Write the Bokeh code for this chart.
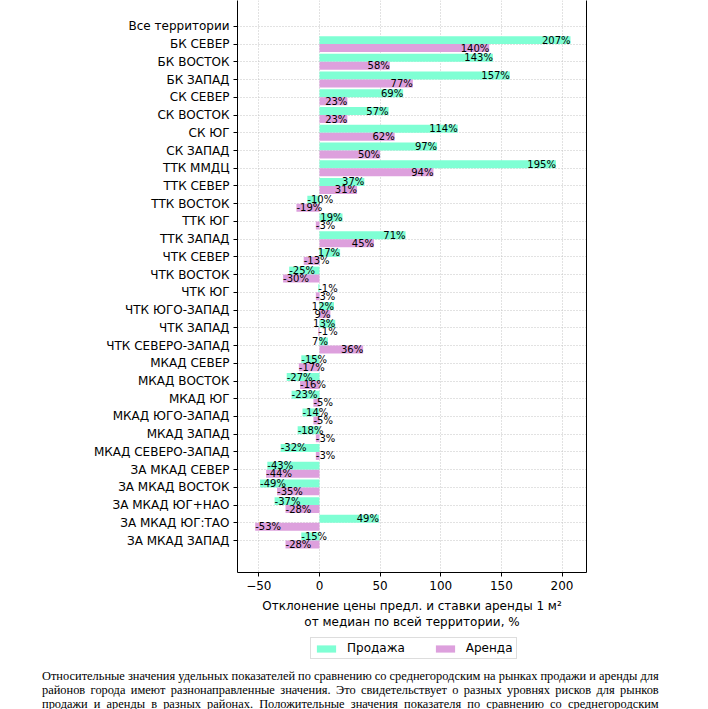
from bokeh.plotting import figure
from bokeh.models import ColumnDataSource, Range1d, FixedTicker, LinearAxis, Legend, LegendItem, Div
from bokeh.layouts import column
from bokeh.embed import file_html
from bokeh.resources import INLINE
from bokeh.core.properties import value

categories = [
    "Все территории", "БК СЕВЕР", "БК ВОСТОК", "БК ЗАПАД", "СК СЕВЕР", "СК ВОСТОК",
    "СК ЮГ", "СК ЗАПАД", "ТТК ММДЦ", "ТТК СЕВЕР", "ТТК ВОСТОК", "ТТК ЮГ", "ТТК ЗАПАД",
    "ЧТК СЕВЕР", "ЧТК ВОСТОК", "ЧТК ЮГ", "ЧТК ЮГО-ЗАПАД", "ЧТК ЗАПАД", "ЧТК СЕВЕРО-ЗАПАД",
    "МКАД СЕВЕР", "МКАД ВОСТОК", "МКАД ЮГ", "МКАД ЮГО-ЗАПАД", "МКАД ЗАПАД",
    "МКАД СЕВЕРО-ЗАПАД", "ЗА МКАД СЕВЕР", "ЗА МКАД ВОСТОК", "ЗА МКАД ЮГ+НАО",
    "ЗА МКАД ЮГ:ТАО", "ЗА МКАД ЗАПАД",
]
sale = [None, 207, 143, 157, 69, 57, 114, 97, 195, 37, -10, 19, 71,
        17, -25, -1, 12, 13, 7, -15, -27, -23, -14, -18, -32,
        -43, -49, -37, 49, -15]
rent = [None, 140, 58, 77, 23, 23, 62, 50, 94, 31, -19, -3, 45,
        -13, -30, -3, 9, -1, 36, -17, -16, -5, -5, -3, -3,
        -44, -35, -28, -53, -28]
x_ticks = [-50, 0, 50, 100, 150, 200]
series_names = ["Продажа", "Аренда"]
series_colors = ["#7FFFD4", "#DDA0DD"]
x_label = "Отклонение цены предл. и ставки аренды 1 м²\nот медиан по всей территории, %"
caption_lines = [
    "Относительные значения удельных показателей по сравнению со среднегородским на рынках продажи и аренды для",
    "районов города имеют разнонаправленные значения. Это свидетельствует о разных уровнях рисков для рынков",
    "продажи и аренды в разных районах. Положительные значения показателя по сравнению со среднегородским",
]

BAR_H = 0.45
FONT = value("DejaVu Sans")


def make_source(vals, offset):
    xs, ys, labels, aligns = [], [], [], []
    for i, v in enumerate(vals):
        if v is None:
            continue
        xs.append(v)
        ys.append(i + offset)
        labels.append(f"{v}%")
        aligns.append("right" if v >= 0 else "left")
    return ColumnDataSource(dict(x=xs, y=ys, label=labels, align=aligns))


p = figure(
    width=700, height=632,
    x_range=Range1d(-67.6, 220.2),
    y_range=Range1d(30.8, -1.46),
    output_backend="svg", toolbar_location=None,
    min_border_left=237, min_border_right=114, min_border_top=0, min_border_bottom=58,
)
p.outline_line_color = None
p.background_fill_color = "white"

sources = [make_source(sale, -BAR_H / 2), make_source(rent, BAR_H / 2)]
for src, col in zip(sources, series_colors):
    p.hbar(y="y", right="x", left=0, height=BAR_H, source=src,
           fill_color=col, line_color=None)
for src in sources:
    p.text(x="x", y="y", text="label", source=src, text_align="align",
           text_baseline="middle", text_font=FONT, text_font_size="10px",
           text_color="black")

# axes
p.xaxis.ticker = FixedTicker(ticks=x_ticks)
p.xaxis.major_label_overrides = {t: (f"\u2212{abs(t)}" if t < 0 else str(t)) for t in x_ticks}
p.yaxis.ticker = FixedTicker(ticks=list(range(len(categories))))
p.yaxis.major_label_overrides = {i: c for i, c in enumerate(categories)}
for ax in (p.xaxis[0], p.yaxis[0]):
    ax.major_label_text_font = "DejaVu Sans"
    ax.major_label_text_font_size = "12px"
    ax.major_label_text_color = "black"
    ax.axis_line_color = "black"
    ax.axis_line_width = 1
    ax.major_tick_line_color = "black"
    ax.major_tick_out = 4
    ax.major_tick_in = 0
    ax.minor_tick_line_color = None
    ax.major_label_standoff = 4
p.xaxis.axis_label = x_label
p.xaxis.axis_label_text_font = "DejaVu Sans"
p.xaxis.axis_label_text_font_size = "12px"
p.xaxis.axis_label_text_font_style = "normal"
p.xaxis.axis_label_text_color = "black"
p.xaxis.axis_label_standoff = 6

right_axis = LinearAxis(ticker=FixedTicker(ticks=[]), major_label_text_font_size="0px",
                        axis_line_color="black", major_tick_line_color=None,
                        minor_tick_line_color=None)
p.add_layout(right_axis, "right")

p.xgrid.ticker = FixedTicker(ticks=x_ticks)
p.ygrid.ticker = FixedTicker(ticks=list(range(len(categories))))
for g in (p.xgrid[0], p.ygrid[0]):
    g.grid_line_color = "#c4c4c4"
    g.grid_line_dash = "1 2"
    g.grid_line_width = 1

# legend strip below the chart (its frame is aligned with the chart frame);
# the bars drawn here fall outside its ranges, only their legend swatches show
pl = figure(
    width=700, height=32, x_range=Range1d(1000, 1001), y_range=Range1d(1000, 1001),
    output_backend="svg", toolbar_location=None,
    min_border_left=237, min_border_right=114, min_border_top=0, min_border_bottom=0,
)
pl.axis.visible = False
pl.grid.visible = False
pl.outline_line_color = None
legend_renderers = [
    pl.hbar(y="y", right="x", left=0, height=BAR_H, source=src,
            fill_color=col, line_color=None)
    for src, col in zip(sources, series_colors)
]
legend = Legend(
    items=[LegendItem(label=n, renderers=[r], index=0) for n, r in zip(series_names, legend_renderers)],
    orientation="horizontal", location=(73, 5),
    label_text_font="DejaVu Sans", label_text_font_size="12px", label_text_color="black",
    glyph_width=24, glyph_height=9, label_standoff=9, spacing=28,
    padding=3, margin=0,
    border_line_color="#bbbbbb", border_line_width=1,
    background_fill_color="white", background_fill_alpha=1.0,
)
pl.add_layout(legend, "center")

caption = Div(
    text="".join(
        f'<div style="text-align:justify;text-align-last:justify;white-space:nowrap;">{line}</div>'
        for line in caption_lines
    ),
    width=630,
    margin=(5, 0, 0, 42),
    styles={
        "font-family": "'Liberation Serif', 'Times New Roman', serif",
        "font-size": "12.4px",
        "line-height": "14px",
        "color": "black",
    },
)

layout = column(p, pl, caption, spacing=0)
open("out.html", "w").write(file_html(layout, INLINE))
